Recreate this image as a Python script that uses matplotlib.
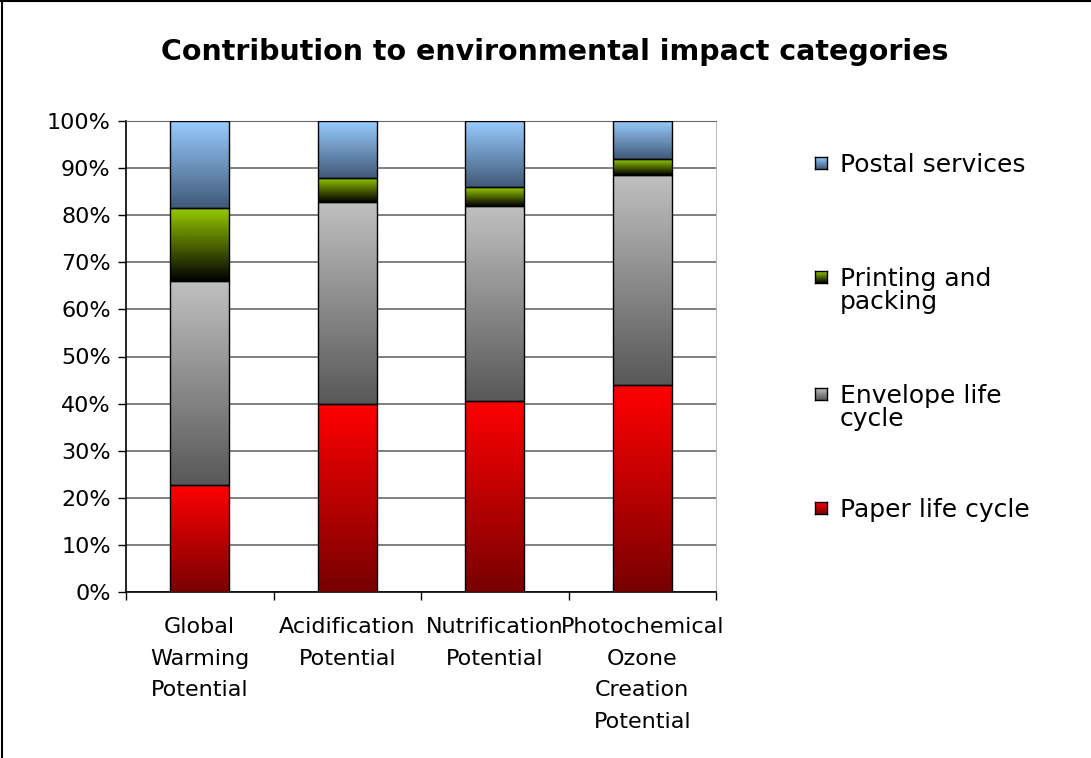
import numpy as np
import matplotlib
matplotlib.use('Agg')
import matplotlib.pyplot as plt
from matplotlib.colors import LinearSegmentedColormap
from matplotlib.lines import Line2D

# Category labels (wrapped as in the chart)
categories = ['Global\nWarming\nPotential', 'Acidification\nPotential',
              'Nutrification\nPotential', 'Photochemical\nOzone\nCreation\nPotential']

# Series, bottom to top (percent of each category)
series_names = ['Paper life cycle', 'Envelope life\ncycle', 'Printing and\npacking', 'Postal services']
paper = [22.7, 40.0, 40.6, 43.9]
envelope = [43.3, 42.7, 41.4, 44.7]
printing = [15.6, 5.3, 4.0, 3.3]
postal = [18.4, 12.0, 14.0, 8.1]

y_ticks = list(range(0, 101, 10))
title = 'Contribution to environmental impact categories'

# top colour, bottom colour of each gradient fill
gradients = [('#ff0000', '#780000'), ('#c0c0c0', '#585858'),
             ('#99cc00', '#000000'), ('#99ccff', '#405a78')]

W, H = 1091, 758
fig = plt.figure(figsize=(W / 100, H / 100), dpi=100)
ax = fig.add_axes([126 / W, 1 - 592 / H, (716 - 126) / W, (592 - 121) / H])

x = np.arange(len(categories))
bottom = np.zeros(len(categories))
grad = np.linspace(0, 1, 256).reshape(-1, 1)
for values, (c_top, c_bot), name in zip([paper, envelope, printing, postal], gradients, series_names):
    bars = ax.bar(x, values, 0.4, bottom=bottom, facecolor='none',
                  edgecolor='black', linewidth=1, zorder=4)
    cmap = LinearSegmentedColormap.from_list(name, [c_bot, c_top])
    for b in bars:
        x0, y0 = b.get_x(), b.get_y()
        ax.imshow(grad, cmap=cmap, origin='lower', aspect='auto', interpolation='bilinear',
                  extent=(x0, x0 + b.get_width(), y0, y0 + b.get_height()), zorder=3)
    bottom += np.array(values)

ax.set_xlim(-0.5, len(categories) - 0.5)
ax.set_ylim(0, 100)
ax.set_yticks(y_ticks)
ax.set_yticklabels([f'{v}%' for v in y_ticks], fontsize=16)
ax.set_xticks(np.arange(-0.5, len(categories), 1))
ax.set_xticklabels([])
ax.set_xticks(x, minor=True)
ax.set_xticklabels(categories, minor=True, fontsize=16, linespacing=1.73)
ax.tick_params(which='major', direction='out', length=6, width=1, pad=5)
ax.tick_params(axis='x', which='minor', length=0, pad=18)

ax.set_axisbelow(True)
ax.yaxis.grid(True, color='#6a6a6a', linewidth=1.2)
ax.spines['top'].set_color('#6a6a6a')
ax.spines['right'].set_color('#c0c0c0')
ax.spines['left'].set_linewidth(1.2)
ax.spines['bottom'].set_linewidth(1.2)

fig.text(555 / W, 1 - 52 / H, title, ha='center', va='center',
         fontsize=20.5, fontweight='bold')

# legend, top entry first
legend_y = [508, 394, 277, 163]
for name, (c_top, c_bot), ly in zip(series_names, gradients, legend_y):
    sq = fig.add_axes([815 / W, 1 - (ly + 6) / H, 12 / W, 12 / H])
    sq.imshow(grad, cmap=LinearSegmentedColormap.from_list(name + 'l', [c_bot, c_top]),
              origin='lower', aspect='auto')
    sq.set_xticks([])
    sq.set_yticks([])
    for s in sq.spines.values():
        s.set_linewidth(1)
    fig.text(840 / W, 1 - (ly - 10) / H, name, ha='left', va='top',
             fontsize=18, linespacing=0.95)

# chart frame (top and left edges)
fig.add_artist(Line2D([0, 1], [1 - 1 / H, 1 - 1 / H], color='black', linewidth=1.5))
fig.add_artist(Line2D([1.5 / W, 1.5 / W], [0, 1], color='black', linewidth=1.5))

fig.savefig('out.png', dpi=100)
